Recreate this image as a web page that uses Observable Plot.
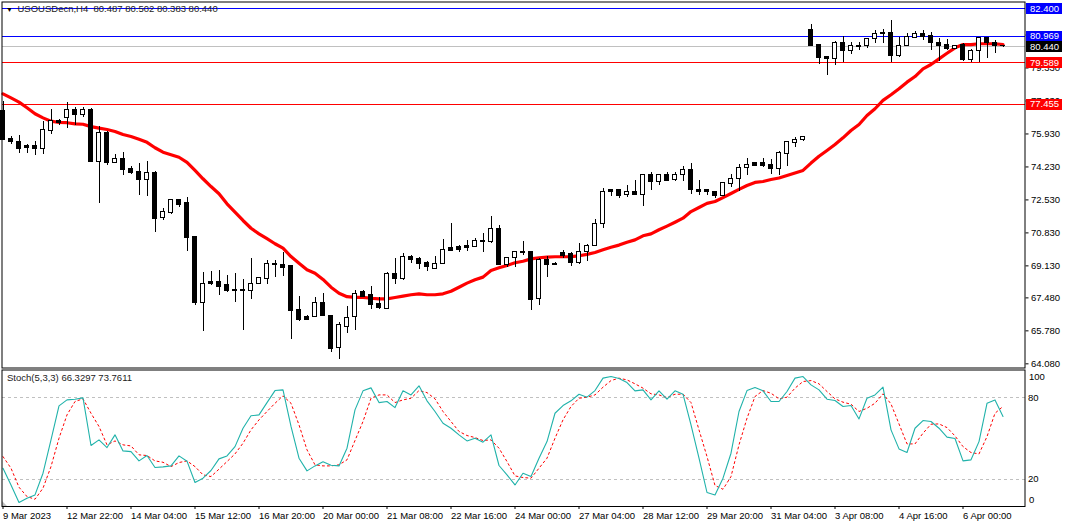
<!DOCTYPE html>
<html>
<head>
<meta charset="utf-8">
<script src="https://cdn.jsdelivr.net/npm/d3@7"></script>
<script src="https://cdn.jsdelivr.net/npm/@observablehq/plot@0.6"></script>
<style>
html,body{margin:0;padding:0;background:#fff;overflow:hidden}
svg{display:block}
</style>
</head>
<body>
<div id="chart"></div>
<script>
const opens=[77.09,75.69,75.54,75.33,75.33,75.13,76.06,76.62,76.73,77.19,76.93,77.14,74.46,76.00,74.41,74.66,74.10,73.99,73.58,73.94,71.62,71.88,72.50,72.35,70.64,67.24,68.32,68.32,68.12,67.91,67.91,67.86,68.22,68.43,69.25,69.20,69.10,66.83,66.47,66.47,67.24,66.57,64.92,66.00,66.47,67.76,67.65,67.14,66.93,68.73,68.43,69.61,69.46,69.30,68.99,69.25,70.03,70.08,70.13,70.08,70.39,70.34,71.01,69.20,69.56,69.87,69.87,67.40,69.41,69.25,69.77,69.72,69.30,69.82,70.18,71.31,73.02,73.02,72.76,72.96,72.76,73.84,73.43,73.79,73.58,73.84,74.05,73.02,73.02,72.96,72.71,73.33,73.63,74.20,74.41,74.41,74.35,74.10,74.92,75.44,75.64,81.31,80.54,79.92,79.77,80.64,80.23,80.44,80.49,80.85,81.06,81.16,79.97,80.44,80.90,81.06,81.00,80.64,80.54,80.33,80.54,79.72,80.23,80.90,80.64,80.487];
const highs=[77.60,75.80,75.85,75.38,75.54,76.57,77.19,76.67,77.55,77.29,77.29,77.24,76.31,76.06,74.87,74.97,74.25,74.41,74.51,73.99,72.09,72.50,72.55,72.65,70.64,68.79,68.84,68.89,68.63,68.73,68.43,69.51,68.53,69.41,69.41,69.82,69.10,67.55,66.57,67.50,67.70,66.57,66.21,67.03,67.86,67.86,68.07,67.50,68.79,69.51,69.77,69.66,69.56,69.35,69.61,70.49,71.31,70.18,70.44,70.54,70.80,71.68,71.21,69.56,69.82,70.39,69.87,69.51,69.61,69.30,69.92,69.82,70.28,70.23,71.52,73.12,73.07,73.07,73.27,73.53,73.84,73.94,73.84,73.94,73.94,74.25,74.41,73.53,73.02,72.96,73.43,73.84,74.35,74.66,74.46,74.66,74.61,75.03,75.54,75.75,75.75,81.57,80.54,79.92,80.70,80.95,80.64,80.64,80.85,81.26,81.31,81.78,80.90,81.11,81.21,81.26,81.16,80.85,80.80,80.49,80.59,80.28,80.90,80.90,80.75,80.502];
const lows=[75.59,75.39,74.93,74.93,74.82,74.87,75.90,76.37,76.21,76.37,76.78,74.46,72.35,74.30,74.41,73.79,73.84,72.76,72.71,70.85,71.47,71.78,72.14,69.87,67.09,65.75,68.12,67.60,67.76,67.24,65.80,67.40,68.17,68.17,68.53,68.58,65.33,66.26,66.31,66.47,66.52,64.66,64.30,65.64,65.80,67.50,66.88,66.88,66.88,68.17,68.38,69.25,68.94,68.84,68.94,69.25,69.87,69.82,69.87,70.08,69.82,70.28,69.20,69.05,69.05,69.66,66.83,67.09,68.53,69.15,69.51,69.10,69.20,69.35,70.18,71.06,72.71,72.60,72.65,72.76,72.19,73.02,73.27,73.53,73.48,73.48,72.81,72.76,72.76,72.60,72.71,73.17,72.96,73.79,74.30,74.20,73.84,73.79,74.25,75.23,75.54,80.44,79.51,78.94,79.46,79.61,80.03,80.23,80.33,80.59,80.59,79.61,79.87,80.44,80.90,80.75,80.23,79.66,80.23,80.28,79.66,79.61,79.61,79.82,80.08,80.383];
const closes=[75.64,75.49,75.18,75.23,75.13,76.11,76.62,76.52,77.14,76.93,77.14,74.46,76.00,74.41,74.66,74.05,73.94,73.58,73.94,71.57,71.93,72.50,72.29,70.59,67.24,68.22,68.22,68.02,67.86,67.81,67.81,68.22,68.48,69.25,69.15,69.00,66.78,66.36,66.36,67.24,66.52,64.87,66.06,66.42,67.70,67.55,67.09,66.98,68.73,68.43,69.61,69.41,69.25,69.05,69.25,69.97,69.92,69.97,70.03,70.39,70.34,71.01,69.20,69.56,69.82,69.77,67.35,69.41,69.20,69.20,69.66,69.30,69.82,70.18,71.31,72.96,72.96,72.71,72.96,72.76,73.84,73.43,73.79,73.53,73.84,74.05,73.02,72.96,72.96,72.71,73.38,73.63,74.20,74.35,74.30,74.30,74.10,74.97,75.49,75.64,75.75,80.49,79.87,79.77,80.64,80.23,80.49,80.39,80.85,81.06,81.16,79.97,80.49,80.95,81.06,80.95,80.64,80.49,80.33,80.49,79.72,80.23,80.90,80.64,80.44,80.440];
const movingAverage=[78.00,77.79,77.57,77.28,76.97,76.76,76.59,76.52,76.51,76.45,76.43,76.31,76.23,76.16,76.06,75.90,75.80,75.66,75.50,75.22,74.99,74.86,74.73,74.47,74.05,73.62,73.22,72.85,72.33,71.90,71.47,71.07,70.78,70.53,70.27,70.04,69.61,69.27,68.93,68.75,68.43,68.03,67.72,67.54,67.51,67.51,67.46,67.43,67.43,67.50,67.57,67.64,67.69,67.64,67.64,67.69,67.82,68.03,68.24,68.41,68.55,68.89,69.03,69.15,69.29,69.37,69.49,69.55,69.58,69.60,69.60,69.61,69.65,69.72,69.82,69.96,70.09,70.20,70.35,70.47,70.68,70.78,70.99,71.18,71.38,71.59,71.93,72.14,72.35,72.45,72.65,72.86,73.07,73.27,73.43,73.48,73.58,73.66,73.79,73.92,74.05,74.43,74.78,75.08,75.39,75.73,76.11,76.42,76.88,77.23,77.66,77.95,78.26,78.60,78.89,79.29,79.51,79.80,80.09,80.37,80.54,80.54,80.58,80.58,80.58,80.54];
const stochMain=[28.0,15.6,2.6,5.8,8.2,24.3,49.0,74.2,78.6,79.1,80.1,44.8,49.0,43.3,52.7,40.8,40.3,33.4,37.4,28.5,29.0,29.7,37.1,33.2,17.4,20.6,26.3,34.9,37.1,44.0,57.6,66.8,67.5,76.6,85.5,86.0,58.9,35.4,26.0,29.7,32.7,30.2,29.7,42.8,71.2,85.3,87.5,76.6,77.4,72.9,85.3,82.3,89.0,77.9,70.0,61.3,57.6,52.7,48.2,50.2,47.3,52.7,30.0,23.1,15.6,24.3,21.8,35.4,47.7,68.7,74.4,77.9,82.8,80.6,85.5,94.7,95.9,94.4,91.4,85.3,86.0,78.6,85.3,79.1,85.3,82.8,60.1,35.4,10.0,8.2,20.6,39.1,70.0,85.5,87.7,85.3,77.4,77.4,84.8,94.7,95.9,89.7,86.0,79.1,78.1,73.7,74.4,64.5,79.8,82.3,88.0,56.4,42.3,39.6,57.6,63.3,62.6,57.6,51.0,50.0,33.4,34.2,47.7,76.1,78.6,66.33];
const stochSignal=[36.6,28.0,13.9,7.0,5.0,13.2,29.2,50.2,67.5,77.4,79.4,68.7,58.9,45.3,48.2,45.3,44.5,37.9,37.4,33.4,32.4,29.2,32.2,33.4,29.2,23.1,21.8,27.3,32.9,38.6,46.5,56.4,63.8,70.0,76.1,81.6,76.1,60.1,41.6,30.5,29.7,29.7,30.5,34.2,48.5,62.6,79.8,82.3,82.3,76.6,78.6,79.8,85.5,84.0,79.4,70.0,62.6,55.2,52.2,50.7,48.5,49.0,42.8,32.9,22.3,21.1,20.6,28.0,35.4,50.2,63.8,73.7,79.8,80.6,82.3,88.0,92.9,94.7,93.4,90.5,87.3,83.1,82.3,80.3,82.8,82.8,76.6,56.4,36.6,15.2,12.4,21.8,45.3,65.0,81.1,85.5,83.5,79.4,80.6,87.3,92.2,92.9,90.5,84.8,79.4,76.9,75.4,70.0,72.4,76.1,83.1,75.6,60.8,46.0,46.0,53.9,60.6,60.8,58.1,51.9,44.0,39.6,38.6,51.4,68.7,73.76];

const priceTicks=[64.08,65.78,67.48,69.13,70.83,72.53,74.23,75.93,77.63,79.33,81.03];
const levelPrices=[82.4,80.969,80.44,79.589,77.455];
const levelColors=["#0000ff","#0000ff","#c0c0c0","#ff0000","#ff0000"];
const tagColors=["#0000ff","#0000ff","#000000","#ff0000","#ff0000"];
const stochLevels=[80,20];
const xTickBars=[0,8,16,24,32,40,48,56,64,72,80,88,96,104,112,120];
const xTickLabels=["9 Mar 2023","12 Mar 22:00","14 Mar 04:00","15 Mar 12:00","16 Mar 20:00","20 Mar 00:00","21 Mar 08:00","22 Mar 16:00","24 Mar 00:00","27 Mar 04:00","28 Mar 12:00","29 Mar 20:00","31 Mar 04:00","3 Apr 08:00","4 Apr 16:00","6 Apr 00:00"];
const headerText="USOUSDecn,H4\u00a0\u00a080.487 80.502 80.383 80.440";
const stochText="Stoch(5,3,3) 66.3297 73.7611";

const bars=opens.map((o,i)=>({i,o,h:highs[i],l:lows[i],c:closes[i],up:closes[i]>o}));
const levels=levelPrices.map((p,k)=>({p,line:levelColors[k],tag:tagColors[k]}));
const maPts=movingAverage.map((v,i)=>({i,v}));
const mainPts=stochMain.map((v,i)=>({i,v}));
const signalPts=stochSignal.map((v,i)=>({i,v}));

const FONT="'Liberation Sans',sans-serif";
const FS=9.5;
const xDomain=[-0.125,127.75];
const tagFrom=127.94, tagTo=132.4;
const W=1065;

const pricePanel=Plot.plot({
  width:W,height:368,
  marginLeft:1.5,marginRight:40.5,marginTop:1.5,marginBottom:0.5,
  style:{fontFamily:FONT,fontSize:FS+"px",background:"#fff",color:"#000",overflow:"visible"},
  x:{domain:xDomain,axis:null},
  y:{domain:[63.865,82.733],axis:null},
  marks:[
    Plot.axisY(priceTicks,{anchor:"right",tickSize:3,tickPadding:3,tickFormat:d=>d.toFixed(3),label:null,stroke:"#000",fill:"#000"}),
    Plot.ruleY(levels,{y:"p",x1:xDomain[0],x2:xDomain[1],stroke:"line",strokeWidth:1,shapeRendering:"crispEdges"}),
    Plot.line(maPts,{x:"i",y:"v",stroke:"#ff0000",strokeWidth:3.2}),
    Plot.ruleX(bars,{x:"i",y1:"l",y2:"h",stroke:"#000",strokeWidth:1,shapeRendering:"crispEdges"}),
    Plot.rect(bars,{x1:d=>d.i-0.25,x2:d=>d.i+0.25,y1:"o",y2:"c",fill:d=>d.up?"#fff":"#000",stroke:"#000",strokeWidth:1,shapeRendering:"crispEdges"}),
    Plot.ruleY(levels,{y:"p",x1:tagFrom,x2:tagTo,stroke:"tag",strokeWidth:11,shapeRendering:"crispEdges"}),
    Plot.text(levels,{y:"p",x:tagFrom,dx:3.5,text:d=>d.p.toFixed(3),textAnchor:"start",fill:"#fff"}),
    Plot.text([headerText],{frameAnchor:"top-left",dx:15.5,dy:3.5,textAnchor:"start",lineAnchor:"top",fill:"#222",fontSize:FS}),
    Plot.text(["▼"],{frameAnchor:"top-left",dx:4,dy:5,textAnchor:"start",lineAnchor:"top",fontSize:7,fill:"#000"}),
    Plot.frame({stroke:"#000",strokeWidth:1})
  ]
});

const triangle={draw(c){c.moveTo(0,0);c.lineTo(0,-5.5);c.lineTo(5.5,0);c.closePath();}};

const stochPanel=Plot.plot({
  width:W,height:158,
  marginLeft:1.5,marginRight:40.5,marginTop:1.5,marginBottom:20,
  style:{fontFamily:FONT,fontSize:FS+"px",background:"#fff",color:"#000",overflow:"visible"},
  x:{domain:xDomain,axis:null},
  y:{domain:[-0.37,100.74],axis:null},
  marks:[
    Plot.axisX(xTickBars,{anchor:"bottom",tickSize:3,tickPadding:2.5,textAnchor:"start",label:null,stroke:"#000",fill:"#000",tickFormat:b=>xTickLabels[xTickBars.indexOf(b)]}),
    Plot.axisY(stochLevels,{anchor:"right",tickSize:0,tickPadding:3,label:null,fill:"#000"}),
    Plot.text([100],{x:xDomain[1],y:d=>d,dx:4,dy:5.5,textAnchor:"start",fill:"#000"}),
    Plot.text([0],{x:xDomain[1],y:d=>d,dx:4,dy:-6.5,textAnchor:"start",fill:"#000"}),
    Plot.ruleY(stochLevels,{x1:xDomain[0],x2:xDomain[1],stroke:"#c0c0c0",strokeDasharray:"3,3",strokeWidth:1,shapeRendering:"crispEdges"}),
    Plot.line(signalPts,{x:"i",y:"v",stroke:"#ff0000",strokeWidth:1,strokeDasharray:"2,3"}),
    Plot.line(mainPts,{x:"i",y:"v",stroke:"#20b2aa",strokeWidth:1.1}),
    Plot.dot([0],{frameAnchor:"bottom-left",symbol:triangle,r:3,fill:"#c0c0c0",stroke:null}),
    Plot.text([stochText],{frameAnchor:"top-left",dx:5,dy:4,textAnchor:"start",lineAnchor:"top",fill:"#222",fontSize:FS}),
    Plot.frame({stroke:"#000",strokeWidth:1})
  ]
});

const host=document.getElementById("chart");
host.appendChild(pricePanel);
host.appendChild(stochPanel);
</script>
</body>
</html>
